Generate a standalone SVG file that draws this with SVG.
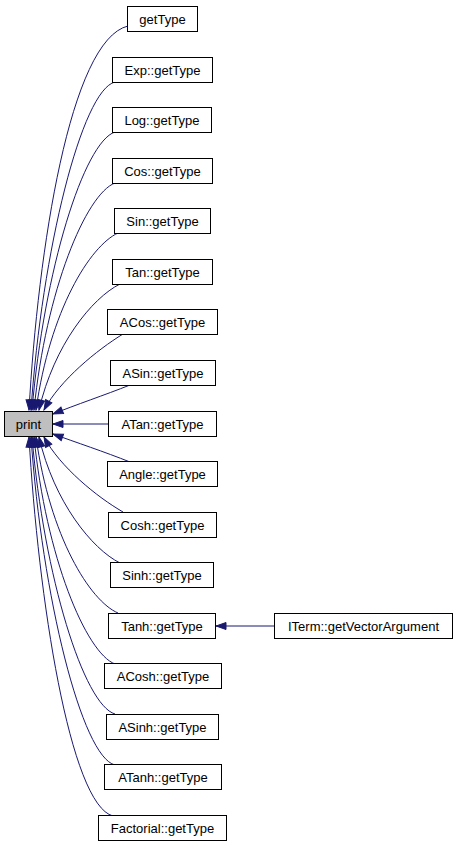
<svg xmlns="http://www.w3.org/2000/svg" width="456" height="848" viewBox="0 0 456 848">
<style>
  .node rect { fill: #ffffff; stroke: #000000; stroke-width: 1; }
  .node.hl rect { fill: #bfbfbf; }
  .node text { font-family: "Liberation Sans", Arial, sans-serif; font-size: 13px; fill: #000000; text-anchor: middle; }
  .edges path { fill: none; stroke: #191970; stroke-width: 1; marker-end: url(#ah); }
</style>
<defs>
  <marker id="ah" markerUnits="userSpaceOnUse" markerWidth="12" markerHeight="10" refX="11" refY="4.5" orient="auto">
    <path d="M1,1 L11,4.5 L1,8 z" fill="#191970" stroke="#191970" stroke-width="1"/>
  </marker>
</defs>
<rect x="0" y="0" width="456" height="848" fill="#ffffff"/>
<g class="edges" id="edges">
  <path d="M128,26 C70,40 38,250 29,410"/>
  <path d="M115,82 C82,90 42,250 31,410"/>
  <path d="M115,132 C84,142 44,270 32,410"/>
  <path d="M115,183 C86,194 46,290 34,410"/>
  <path d="M118,233 C90,246 50,310 36,410"/>
  <path d="M120,284 C92,298 54,345 39,410"/>
  <path d="M123,334 C97,350 60,380 44,410"/>
  <path d="M130,385 C105,395 75,405 53,414"/>
  <path d="M108,424 L53,424"/>
  <path d="M130,462 C105,452 75,442 53,434"/>
  <path d="M123,512 C97,497 60,467 44,437"/>
  <path d="M120,563 C92,549 54,502 39,437"/>
  <path d="M118,613 C90,601 50,537 36,437"/>
  <path d="M115,664 C86,653 46,557 34,437"/>
  <path d="M115,714 C84,705 44,577 32,437"/>
  <path d="M115,765 C82,757 42,597 31,437"/>
  <path d="M113,816 C70,805 38,597 29,437"/>
  <path d="M274,626 L216,626"/>
</g>
<g class="node hl" id="print"><rect x="4.5" y="411.5" width="48" height="25"/><text x="28.5" y="428.5">print</text></g>
<g class="node" id="getType"><rect x="127.5" y="6.5" width="70" height="25"/><text x="162.5" y="23.5">getType</text></g>
<g class="node" id="Exp_getType"><rect x="112.5" y="57.5" width="100" height="25"/><text x="162.5" y="74.5">Exp::getType</text></g>
<g class="node" id="Log_getType"><rect x="112.5" y="107.5" width="99" height="25"/><text x="162" y="124.5">Log::getType</text></g>
<g class="node" id="Cos_getType"><rect x="112.5" y="158.5" width="100" height="25"/><text x="162.5" y="175.5">Cos::getType</text></g>
<g class="node" id="Sin_getType"><rect x="114.5" y="208.5" width="96" height="25"/><text x="162.5" y="225.5">Sin::getType</text></g>
<g class="node" id="Tan_getType"><rect x="112.5" y="259.5" width="100" height="25"/><text x="162.5" y="276.5">Tan::getType</text></g>
<g class="node" id="ACos_getType"><rect x="107.5" y="309.5" width="110" height="25"/><text x="162.5" y="326.5">ACos::getType</text></g>
<g class="node" id="ASin_getType"><rect x="110.5" y="360.5" width="105" height="25"/><text x="163" y="377.5">ASin::getType</text></g>
<g class="node" id="ATan_getType"><rect x="108.5" y="411.5" width="108" height="25"/><text x="162.5" y="428.5">ATan::getType</text></g>
<g class="node" id="Angle_getType"><rect x="107.5" y="461.5" width="110" height="25"/><text x="162.5" y="478.5">Angle::getType</text></g>
<g class="node" id="Cosh_getType"><rect x="108.5" y="512.5" width="108" height="25"/><text x="162.5" y="529.5">Cosh::getType</text></g>
<g class="node" id="Sinh_getType"><rect x="110.5" y="562.5" width="103" height="25"/><text x="162" y="579.5">Sinh::getType</text></g>
<g class="node" id="Tanh_getType"><rect x="108.5" y="613.5" width="107" height="25"/><text x="162" y="630.5">Tanh::getType</text></g>
<g class="node" id="ACosh_getType"><rect x="104.5" y="663.5" width="117" height="25"/><text x="163" y="680.5">ACosh::getType</text></g>
<g class="node" id="ASinh_getType"><rect x="106.5" y="714.5" width="112" height="25"/><text x="162.5" y="731.5">ASinh::getType</text></g>
<g class="node" id="ATanh_getType"><rect x="104.5" y="764.5" width="117" height="25"/><text x="163" y="781.5">ATanh::getType</text></g>
<g class="node" id="Factorial_getType"><rect x="98.5" y="815.5" width="128" height="25"/><text x="162.5" y="832.5">Factorial::getType</text></g>
<g class="node" id="ITerm_getVectorArgument"><rect x="274.5" y="613.5" width="178" height="25"/><text x="363.5" y="630.5">ITerm::getVectorArgument</text></g>
</svg>
